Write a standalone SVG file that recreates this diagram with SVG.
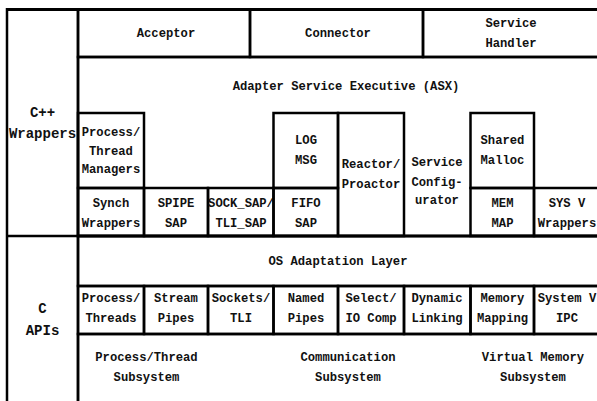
<svg xmlns="http://www.w3.org/2000/svg" width="597" height="401" viewBox="0 0 597 401">
<style>
.c{fill:none;stroke:#000;stroke-width:2.5}
text{font-family:"Liberation Mono","Courier New",monospace;font-weight:bold;font-size:12.2px;fill:#111;text-anchor:middle}
.big{font-size:14px}
</style>
<rect x="0" y="0" width="597" height="401" fill="#fff"/>
<g id="frame">
<line class="c" x1="6" y1="9.5" x2="600" y2="9.5" style="stroke-width:3"/>
<line class="c" x1="7" y1="8" x2="7" y2="410"/>
<line class="c" x1="78" y1="9.5" x2="78" y2="410"/>
<line class="c" x1="7" y1="236" x2="600" y2="236"/>
</g>
<g id="cpp-wrappers"><text class="big" x="42.5" y="117">C++</text><text class="big" x="42.5" y="138">Wrappers</text></g>
<g id="c-apis"><text class="big" x="42.5" y="313">C</text><text class="big" x="42.5" y="335">APIs</text></g>
<g id="acceptor"><rect class="c" x="78" y="9.5" width="172" height="47.5"/><text x="166" y="37">Acceptor</text></g>
<g id="connector"><rect class="c" x="250" y="9.5" width="173" height="47.5"/><text x="338" y="37">Connector</text></g>
<g id="service-handler"><rect class="c" x="423" y="9.5" width="180" height="47.5"/><text x="511" y="27">Service</text><text x="511" y="47">Handler</text></g>
<g id="asx"><rect class="c" x="78" y="57" width="525" height="179"/><text x="346" y="90">Adapter Service Executive (ASX)</text></g>
<g id="process-thread-managers"><rect class="c" x="78" y="113" width="66" height="75"/><text x="111" y="136">Process/</text><text x="111" y="155">Thread</text><text x="111" y="173">Managers</text></g>
<g id="log-msg"><rect class="c" x="273.5" y="113" width="64.5" height="75"/><text x="306" y="144">LOG</text><text x="306" y="164">MSG</text></g>
<g id="reactor-proactor"><rect class="c" x="338" y="113" width="66" height="123"/><text x="371" y="168">Reactor/</text><text x="371" y="188">Proactor</text></g>
<g id="service-configurator"><text x="437" y="166">Service</text><text x="437" y="186">Config-</text><text x="437" y="204">urator</text></g>
<g id="shared-malloc"><rect class="c" x="470.5" y="113" width="63.5" height="75"/><text x="502.5" y="144">Shared</text><text x="502.5" y="164">Malloc</text></g>
<g id="synch-wrappers"><rect class="c" x="78" y="188" width="66" height="48"/><text x="111" y="207">Synch</text><text x="111" y="227">Wrappers</text></g>
<g id="spipe-sap"><rect class="c" x="144" y="188" width="64" height="48"/><text x="176" y="207">SPIPE</text><text x="176" y="227">SAP</text></g>
<g id="sock-sap"><rect class="c" x="208" y="188" width="65.5" height="48"/><text x="241" y="207">SOCK_SAP/</text><text x="241" y="227">TLI_SAP</text></g>
<g id="fifo-sap"><rect class="c" x="273.5" y="188" width="64.5" height="48"/><text x="306" y="207">FIFO</text><text x="306" y="227">SAP</text></g>
<g id="mem-map"><rect class="c" x="470.5" y="188" width="63.5" height="48"/><text x="502.5" y="207">MEM</text><text x="502.5" y="227">MAP</text></g>
<g id="sysv-wrappers"><rect class="c" x="534" y="188" width="70" height="48"/><text x="567" y="207">SYS V</text><text x="567" y="227">Wrappers</text></g>
<g id="os-adaptation-layer"><rect class="c" x="78" y="236" width="525" height="50"/><text x="338" y="265">OS Adaptation Layer</text></g>
<g id="process-threads"><rect class="c" x="78" y="286" width="66" height="48"/><text x="111" y="302">Process/</text><text x="111" y="322">Threads</text></g>
<g id="stream-pipes"><rect class="c" x="144" y="286" width="64" height="48"/><text x="176" y="302">Stream</text><text x="176" y="322">Pipes</text></g>
<g id="sockets-tli"><rect class="c" x="208" y="286" width="65.5" height="48"/><text x="241" y="302">Sockets/</text><text x="241" y="322">TLI</text></g>
<g id="named-pipes"><rect class="c" x="273.5" y="286" width="64.5" height="48"/><text x="306" y="302">Named</text><text x="306" y="322">Pipes</text></g>
<g id="select-io"><rect class="c" x="338" y="286" width="66" height="48"/><text x="371" y="302">Select/</text><text x="371" y="322">IO Comp</text></g>
<g id="dynamic-linking"><rect class="c" x="404" y="286" width="66.5" height="48"/><text x="437" y="302">Dynamic</text><text x="437" y="322">Linking</text></g>
<g id="memory-mapping"><rect class="c" x="470.5" y="286" width="63.5" height="48"/><text x="502.5" y="302">Memory</text><text x="502.5" y="322">Mapping</text></g>
<g id="sysv-ipc"><rect class="c" x="534" y="286" width="70" height="48"/><text x="567" y="302">System V</text><text x="567" y="322">IPC</text></g>
<g id="subsystems"><rect class="c" x="78" y="334" width="525" height="80"/></g>
<g id="process-thread-subsystem"><text x="146.5" y="361">Process/Thread</text><text x="146.5" y="381">Subsystem</text></g>
<g id="communication-subsystem"><text x="348" y="361">Communication</text><text x="348" y="381">Subsystem</text></g>
<g id="virtual-memory-subsystem"><text x="533" y="361">Virtual Memory</text><text x="533" y="381">Subsystem</text></g>
</svg>
